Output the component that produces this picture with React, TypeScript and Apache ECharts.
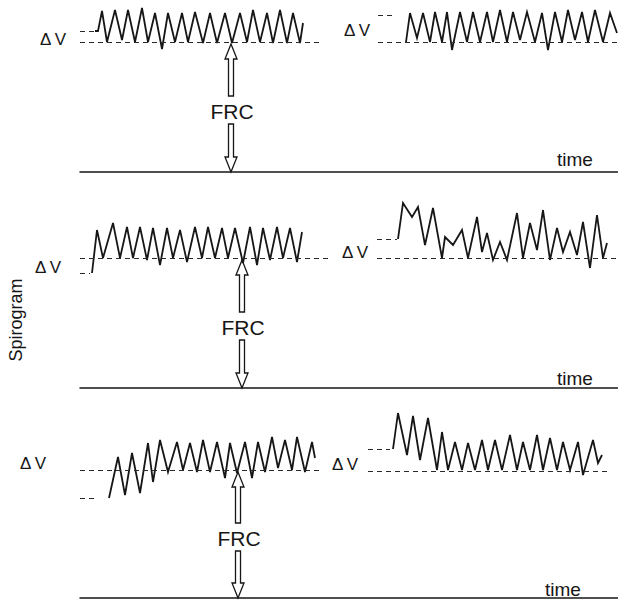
import React, { useEffect, useRef } from "react";
import * as echarts from "echarts";

// ---- Data (time units from trace origin, volume units above zero line) ----
const p1LeftTime = [15, 18, 22, 27, 35, 42, 48, 55, 62, 68, 75, 82, 88, 95, 102, 108, 115, 123, 130, 137, 145, 152, 160, 167, 173, 180, 187, 193, 200, 207, 213, 220, 223];
const p1LeftVolume = [141, 141, 161, 130, 162, 132, 162, 130, 164, 130, 159, 123, 159, 130, 159, 130, 160, 129, 159, 129, 159, 129, 159, 130, 162, 130, 159, 129, 162, 129, 159, 129, 149];
const p1RightTime = [326, 330, 337, 343, 350, 355, 362, 367, 372, 380, 387, 393, 400, 407, 413, 420, 427, 433, 440, 447, 455, 462, 468, 475, 482, 488, 495, 502, 508, 515, 523, 530, 537];
const p1RightVolume = [130, 159, 134, 159, 130, 160, 130, 160, 122, 160, 130, 160, 130, 160, 130, 162, 130, 160, 132, 160, 130, 159, 122, 160, 130, 162, 132, 160, 130, 162, 130, 159, 139];

const p2LeftTime = [12, 17, 23, 33, 40, 47, 53, 60, 67, 73, 80, 87, 93, 100, 107, 115, 122, 128, 135, 142, 148, 155, 163, 170, 177, 183, 190, 197, 203, 210, 217, 222];
const p2LeftVolume = [115, 158, 130, 165, 130, 161, 130, 161, 128, 160, 123, 160, 130, 158, 126, 161, 130, 161, 130, 160, 130, 160, 125, 161, 123, 160, 128, 161, 130, 160, 126, 156];
const p2RightTime = [318, 323, 332, 338, 345, 353, 362, 365, 373, 382, 388, 397, 402, 407, 413, 420, 427, 437, 443, 450, 457, 463, 470, 477, 483, 490, 497, 503, 510, 517, 523, 527];
const p2RightVolume = [149, 185, 171, 181, 143, 180, 130, 151, 143, 158, 130, 171, 136, 155, 128, 146, 128, 175, 130, 165, 138, 178, 128, 160, 136, 156, 133, 166, 120, 173, 130, 145];

const p3LeftTime = [29, 38, 45, 52, 60, 68, 73, 80, 88, 97, 103, 110, 117, 123, 130, 137, 145, 150, 157, 165, 172, 178, 185, 192, 198, 205, 212, 217, 225, 232, 235];
const p3LeftVolume = [100, 141, 103, 145, 105, 155, 116, 158, 126, 156, 128, 155, 126, 158, 126, 156, 120, 155, 125, 156, 120, 156, 126, 161, 130, 158, 128, 161, 126, 156, 140];
const p3RightTime = [313, 318, 327, 333, 340, 348, 357, 362, 368, 375, 382, 388, 395, 402, 408, 415, 422, 430, 437, 443, 450, 457, 463, 470, 477, 483, 490, 498, 503, 513, 518, 522];
const p3RightVolume = [149, 185, 143, 182, 138, 180, 128, 166, 128, 156, 128, 155, 128, 158, 128, 158, 128, 163, 128, 156, 128, 163, 128, 160, 128, 156, 128, 156, 123, 158, 135, 143];

// dashed reference levels: [startTime, endTime, volume]
const p1LeftDashes = [[0, 243, 130], [0, 18, 141]];
const p1RightDashes = [[298, 538, 130], [298, 315, 157]];
const p2LeftDashes = [[0, 248, 130], [0, 10, 115]];
const p2RightDashes = [[297, 538, 130], [297, 317, 149]];
const p3LeftDashes = [[0, 243, 128], [0, 15, 100]];
const p3RightDashes = [[288, 528, 127], [288, 310, 149]];

// FRC arrow: time position and FRC volume per panel
const frcArrowTime = [151, 162, 158];
const frcVolume = [130, 130, 128];

const axisMax = [172, 198, 198];
const panelTop = [0, 190, 400];

const FONT = '"Liberation Sans", Arial, Helvetica, sans-serif';
const INK = "#161616";

function zip(t: number[], v: number[]) {
  return t.map((x, i) => [x, v[i]]);
}

function dashMark(d: number[][]) {
  return {
    silent: true,
    symbol: ["none", "none"],
    label: { show: false },
    lineStyle: { type: [5, 4], color: "#2a2a2a", width: 1.1 },
    emphasis: { disabled: true },
    data: d.map(([a, b, v]) => [{ coord: [a, v] }, { coord: [b, v] }]),
  };
}

export default function App() {
  const ref = useRef<HTMLDivElement>(null);
  useEffect(() => {
    if (!ref.current) return;
    const chart = echarts.init(ref.current, null, { renderer: "svg" });
    const traces = [
      [p1LeftTime, p1LeftVolume, p1LeftDashes, 0],
      [p1RightTime, p1RightVolume, p1RightDashes, 0],
      [p2LeftTime, p2LeftVolume, p2LeftDashes, 1],
      [p2RightTime, p2RightVolume, p2RightDashes, 1],
      [p3LeftTime, p3LeftVolume, p3LeftDashes, 2],
      [p3RightTime, p3RightVolume, p3RightDashes, 2],
    ] as any[];
    const grids = [0, 1, 2].map((i) => ({
      left: 80,
      right: 0,
      top: panelTop[i],
      height: axisMax[i],
      show: false,
    }));
    const xAxes = [0, 1, 2].map((i) => ({
      type: "value",
      gridIndex: i,
      min: 0,
      max: 538,
      axisLine: { show: true, lineStyle: { color: INK, width: 1.5 } },
      axisTick: { show: false },
      axisLabel: { show: false },
      splitLine: { show: false },
    }));
    const yAxes = [0, 1, 2].map((i) => ({
      type: "value",
      gridIndex: i,
      min: 0,
      max: axisMax[i],
      show: false,
      splitLine: { show: false },
    }));
    const series = traces.map(([t, v, d, g]) => ({
      type: "line",
      xAxisIndex: g,
      yAxisIndex: g,
      data: zip(t, v),
      showSymbol: false,
      symbol: "none",
      lineStyle: { color: INK, width: 1.8, join: "miter" },
      silent: true,
      clip: false,
      markLine: dashMark(d),
    }));
    chart.setOption({
      animation: false,
      backgroundColor: "#ffffff",
      grid: grids,
      xAxis: xAxes,
      yAxis: yAxes,
      series,
    });

    const graphics: any[] = [];
    const textStyle = (text: string, size: number, extra: any = {}) => ({
      text,
      font: `${size}px ${FONT}`,
      fill: INK,
      align: "center",
      verticalAlign: "middle",
      textAlign: "center",
      textVerticalAlign: "middle",
      ...extra,
    });
    [0, 1, 2].forEach((i) => {
      const top = chart.convertToPixel({ gridIndex: i } as any, [frcArrowTime[i], frcVolume[i]]) as number[];
      const bot = chart.convertToPixel({ gridIndex: i } as any, [frcArrowTime[i], 0]) as number[];
      const x = top[0];
      const yF = top[1];
      const yB = bot[1];
      const textY = (yF + yB) / 2 + 4;
      const tip = yF + 2;
      const upEnd = textY - 15;
      const dnStart = textY + 13;
      const hl = 15, hw = 6, sw = 2.5;
      graphics.push({
        type: "polygon",
        silent: true,
        shape: {
          points: [
            [x - sw, upEnd], [x - sw, tip + hl], [x - hw, tip + hl], [x, tip],
            [x + hw, tip + hl], [x + sw, tip + hl], [x + sw, upEnd],
          ],
        },
        style: { fill: "#fff", stroke: INK, lineWidth: 1.3 },
      });
      graphics.push({
        type: "polygon",
        silent: true,
        shape: {
          points: [
            [x - sw, dnStart], [x - sw, yB - hl], [x - hw, yB - hl], [x, yB],
            [x + hw, yB - hl], [x + sw, yB - hl], [x + sw, dnStart],
          ],
        },
        style: { fill: "#fff", stroke: INK, lineWidth: 1.3 },
      });
      graphics.push({ type: "text", x: x + 1, y: textY, silent: true, style: textStyle("FRC", 21) });
    });
    const dvPos = [[53, 39], [357, 30], [48, 267], [355, 252], [33, 463], [345, 464]];
    dvPos.forEach(([x, y]) => {
      graphics.push({ type: "text", x, y, silent: true, style: textStyle("Δ\u2009V", 17) });
    });
    const timePos = [[575, 159], [575, 378], [563, 589]];
    timePos.forEach(([x, y]) => {
      graphics.push({ type: "text", x, y, silent: true, style: textStyle("time", 19) });
    });
    graphics.push({
      type: "text",
      x: 16,
      y: 320,
      rotation: Math.PI / 2,
      silent: true,
      style: textStyle("Spirogram", 18),
    });
    chart.setOption({ graphic: graphics });
    return () => chart.dispose();
  }, []);
  return (
    <div
      ref={ref}
      style={{ position: "fixed", left: 0, top: 0, width: 618, height: 602, background: "#fff" }}
    />
  );
}
